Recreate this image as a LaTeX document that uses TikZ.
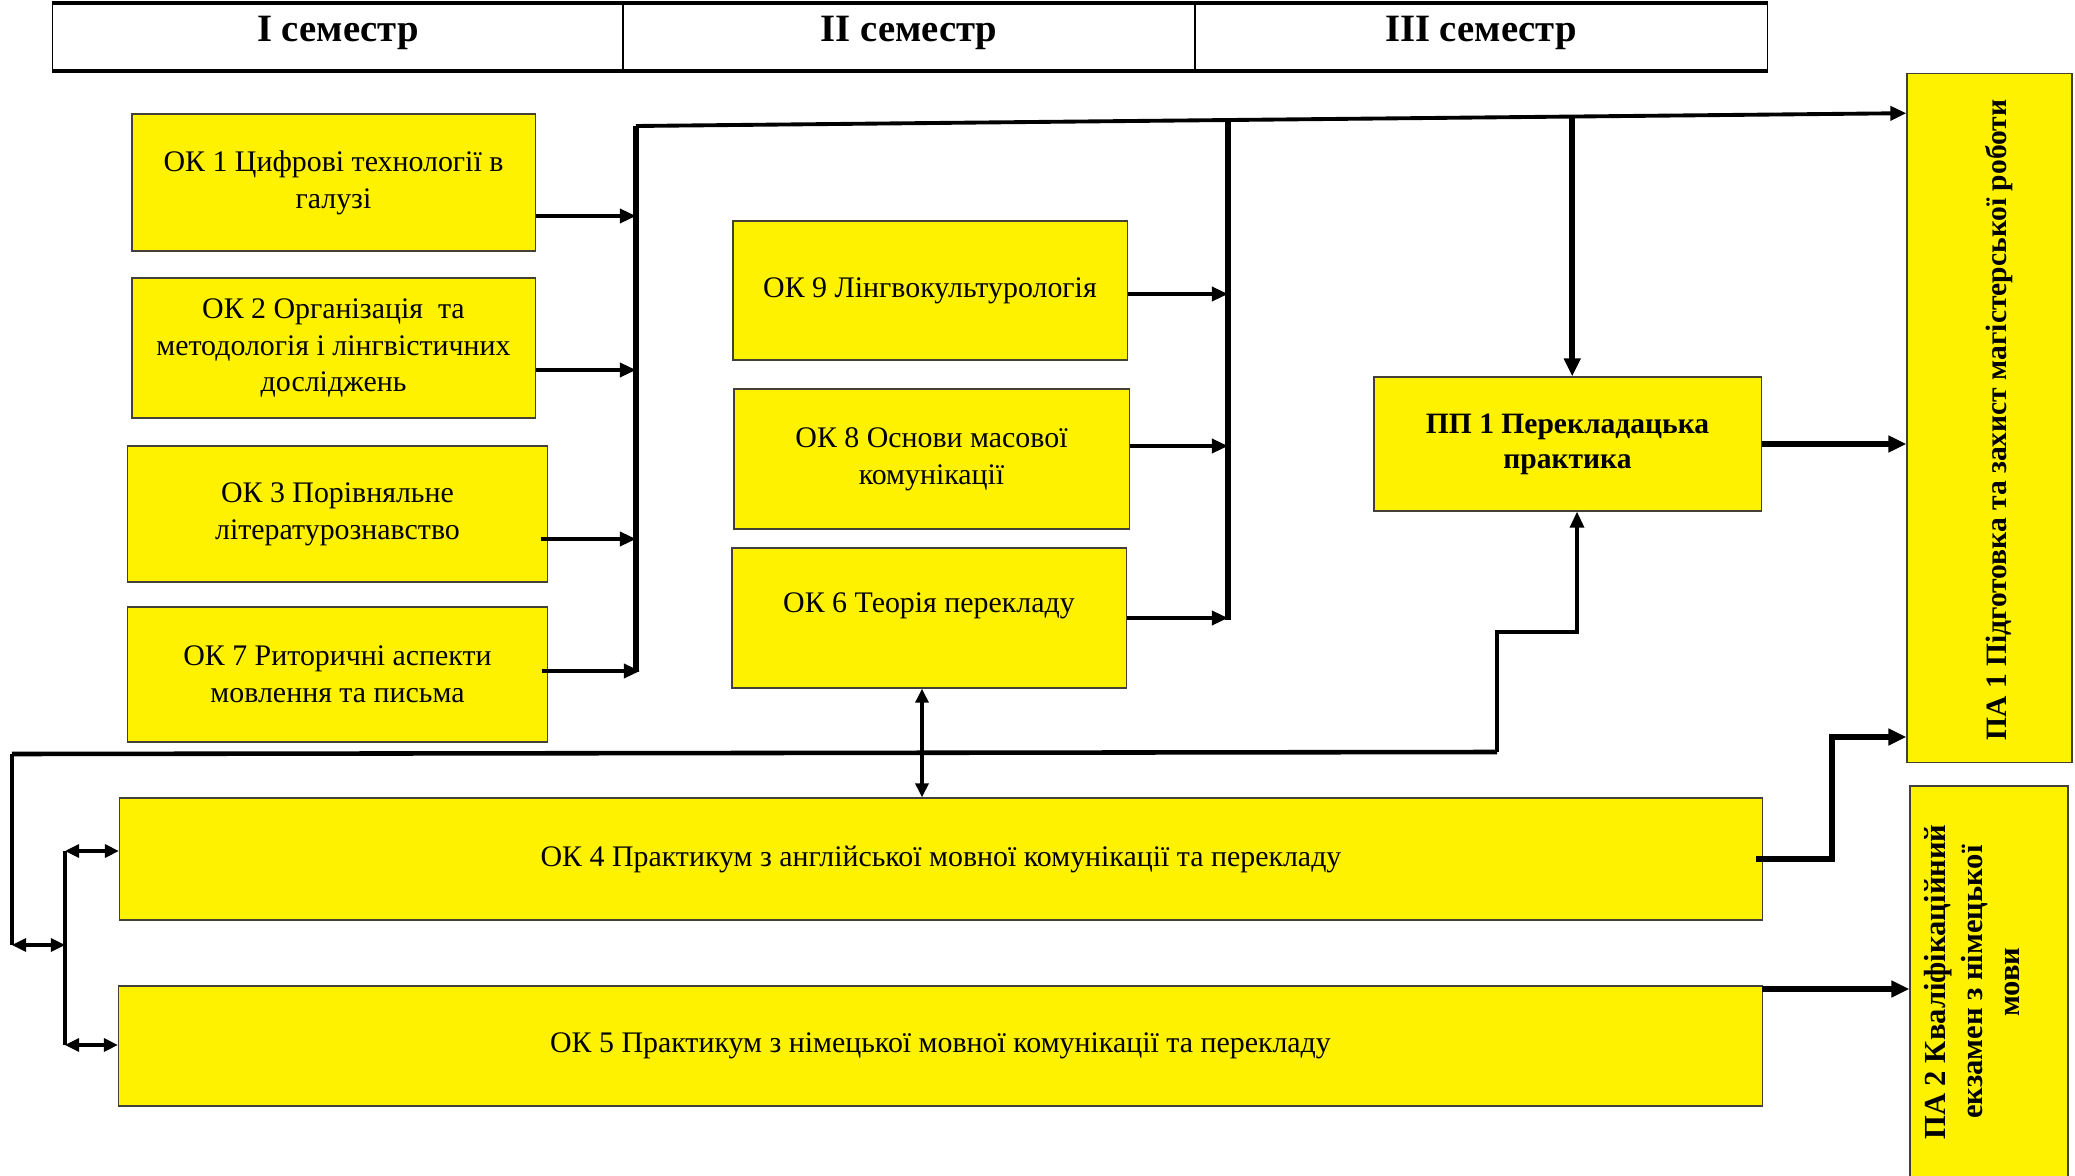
\documentclass[tikz,border=0pt]{standalone}
\usepackage{fontspec}
\setmainfont{Liberation Serif}
\usetikzlibrary{arrows.meta,calc}
\begin{document}
\begin{tikzpicture}[x=0.01cm,y=-0.01cm,
  box/.style={draw=black!85!yellow, line width=0.35pt, fill=yellow, inner sep=0pt,
    align=center, font=\fontsize{8.5}{10.5}\selectfont},
  boldbox/.style={box, font=\fontsize{8.4}{10}\selectfont\bfseries},
  vtext/.style={rotate=90, align=center, inner sep=0pt},
  hdr/.style={draw=black, line width=0.35pt, inner sep=0pt, minimum height=0.66cm,
    font=\fontsize{11}{13}\selectfont\bfseries, text depth=4.5pt},
  tip/.style={-{Triangle[length=0.16cm,width=0.14cm]}},
  arr/.style={tip, line width=0.95pt},
  arrthick/.style={-{Triangle[length=0.18cm,width=0.16cm]}, line width=1.7pt},
  dbl/.style={{Triangle[length=0.14cm,width=0.13cm]}-{Triangle[length=0.14cm,width=0.13cm]}, line width=0.9pt},
  bus/.style={line width=1.8pt},
  wire/.style={line width=1pt},
]
\useasboundingbox (0,0) rectangle (2075,1176);

% header
\node[hdr, minimum width=5.70cm] (s1) at (338,37) {I семестр};
\node[hdr, minimum width=5.72cm] (s2) at (909,37) {II семестр};
\node[hdr, minimum width=5.72cm] (s3) at (1481,37) {III семестр};
\draw[line width=1.2pt] (s1.north west) -- (s3.north east);
\draw[line width=1.2pt] (s1.south west) -- (s3.south east);

% semester I
\node[box, minimum width=4.03cm, minimum height=1.37cm] (ok1) at (333.5,182.5) {ОК 1 Цифрові технології в\\галузі};
\node[box, minimum width=4.03cm, minimum height=1.40cm] (ok2) at (333.5,348) {ОК 2 Організація\ \ та\\методологія і лінгвістичних\\досліджень};
\node[box, minimum width=4.19cm, minimum height=1.36cm] (ok3) at (337.5,514) {ОК 3 Порівняльне\\літературознавство};
\node[box, minimum width=4.19cm, minimum height=1.35cm] (ok7) at (337.5,674.5) {ОК 7 Риторичні аспекти\\мовлення та письма};

% semester II
\node[box, minimum width=3.94cm, minimum height=1.39cm] (ok9) at (930,290.5) {ОК 9 Лінгвокультурологія};
\node[box, minimum width=3.95cm, minimum height=1.40cm] (ok8) at (931.5,459) {ОК 8 Основи масової\\комунікації};
\node[box, minimum width=3.94cm, minimum height=1.40cm, text depth=9pt] (ok6) at (929,618) {ОК 6 Теорія перекладу};

% semester III
\node[boldbox, minimum width=3.87cm, minimum height=1.34cm] (pp1) at (1567.5,444) {ПП 1 Перекладацька\\практика};

% final attestation
\node[boldbox, minimum width=1.65cm, minimum height=6.88cm] (pa1) at (1989.5,418) {};
\node[vtext, font=\fontsize{8.4}{10}\selectfont\bfseries] (pa1t) at (1999,420) {ПА 1 Підготовка та захист магістерської роботи};
\node[boldbox, minimum width=1.58cm, minimum height=3.90cm] (pa2) at (1989,981) {};
\node[vtext, font=\fontsize{8.7}{10.5}\selectfont\bfseries] (pa2t) at (1972,982) {ПА 2 Кваліфікаційний\\екзамен з німецької\\мови};

% practicums
\node[box, minimum width=16.42cm, minimum height=1.22cm] (ok4) at (941,859) {ОК 4 Практикум з англійської мовної комунікації та перекладу};
\node[box, minimum width=16.43cm, minimum height=1.20cm] (ok5) at (940.5,1046) {ОК 5 Практикум з німецької мовної комунікації та перекладу};

% bus I
\coordinate (b1top) at (636,126);
\coordinate (b1bot) at (636,672);
\coordinate (pa1in) at ($(pa1.north west)+(0,40)$);
\draw[bus] (b1top) -- (b1bot);
\draw[arr, line width=1.1pt] (b1top) -- (pa1in);
\draw[arr] (ok1.east |- 0,216) -- (b1top |- 0,216);
\draw[arr] (ok2.east |- 0,370) -- (b1top |- 0,370);
\draw[arr] ($(ok3.east |- 0,539)+(-7,0)$) -- (b1top |- 0,539);
\draw[arr] ($(ok7.east |- 0,671)+(-6,0)$) -- ($(b1top |- 0,671)+(4,0)$);

% bus II
\coordinate (b2top) at ($(b1top)!0.466!(pa1in)$);
\coordinate (b2bot) at (b2top |- 0,620);
\draw[bus] (b2top) -- (b2bot);
\draw[arr] (ok9.east |- 0,294) -- (b2top |- 0,294);
\draw[arr] (ok8.east |- 0,446) -- (b2top |- 0,446);
\draw[arr] (ok6.east |- 0,618) -- (b2top |- 0,618);

% into PP1
\coordinate (d1) at ($(b1top)!0.737!(pa1in)$);
\draw[arrthick] (d1) -- (d1 |- pp1.north);
\draw[arrthick] (pp1.east) -- (pp1.east -| pa1.west);

% bottom wire
\coordinate (w0) at (12,754);
\coordinate (w1) at (1497,752);
\draw[line width=1.3pt] (w0) -- (w1);
\draw[arr] (w1) -- (1497,632) -- (1577,632) -- (1577,0 |- pp1.south);

% left distribution
\coordinate (lv) at (12,945);
\coordinate (l4) at (65,851);
\coordinate (l5) at (65,1045);
\draw[wire] (w0) -- (lv);
\draw[dbl] (lv) -- (65,945);
\draw[wire] (l4) -- (l5);
\draw[dbl] (l4) -- (l4 -| ok4.west);
\draw[dbl] (l5) -- (l5 -| ok5.west);

% OK6 <-> OK4
\coordinate (m) at (922,0);
\draw[dbl] (ok6.south -| m) -- (ok4.north -| m);

% OK4 -> PA1, OK5 -> PA2
\draw[arrthick, line width=1.5pt] ($(ok4.east)+(-7,0)$) -- (1832,859) -- (1832,737) -- (pa1.west |- 0,737);
\draw[arrthick, line width=1.5pt] (1762,989) -- (pa2.west |- 0,989);
\end{tikzpicture}
\end{document}
